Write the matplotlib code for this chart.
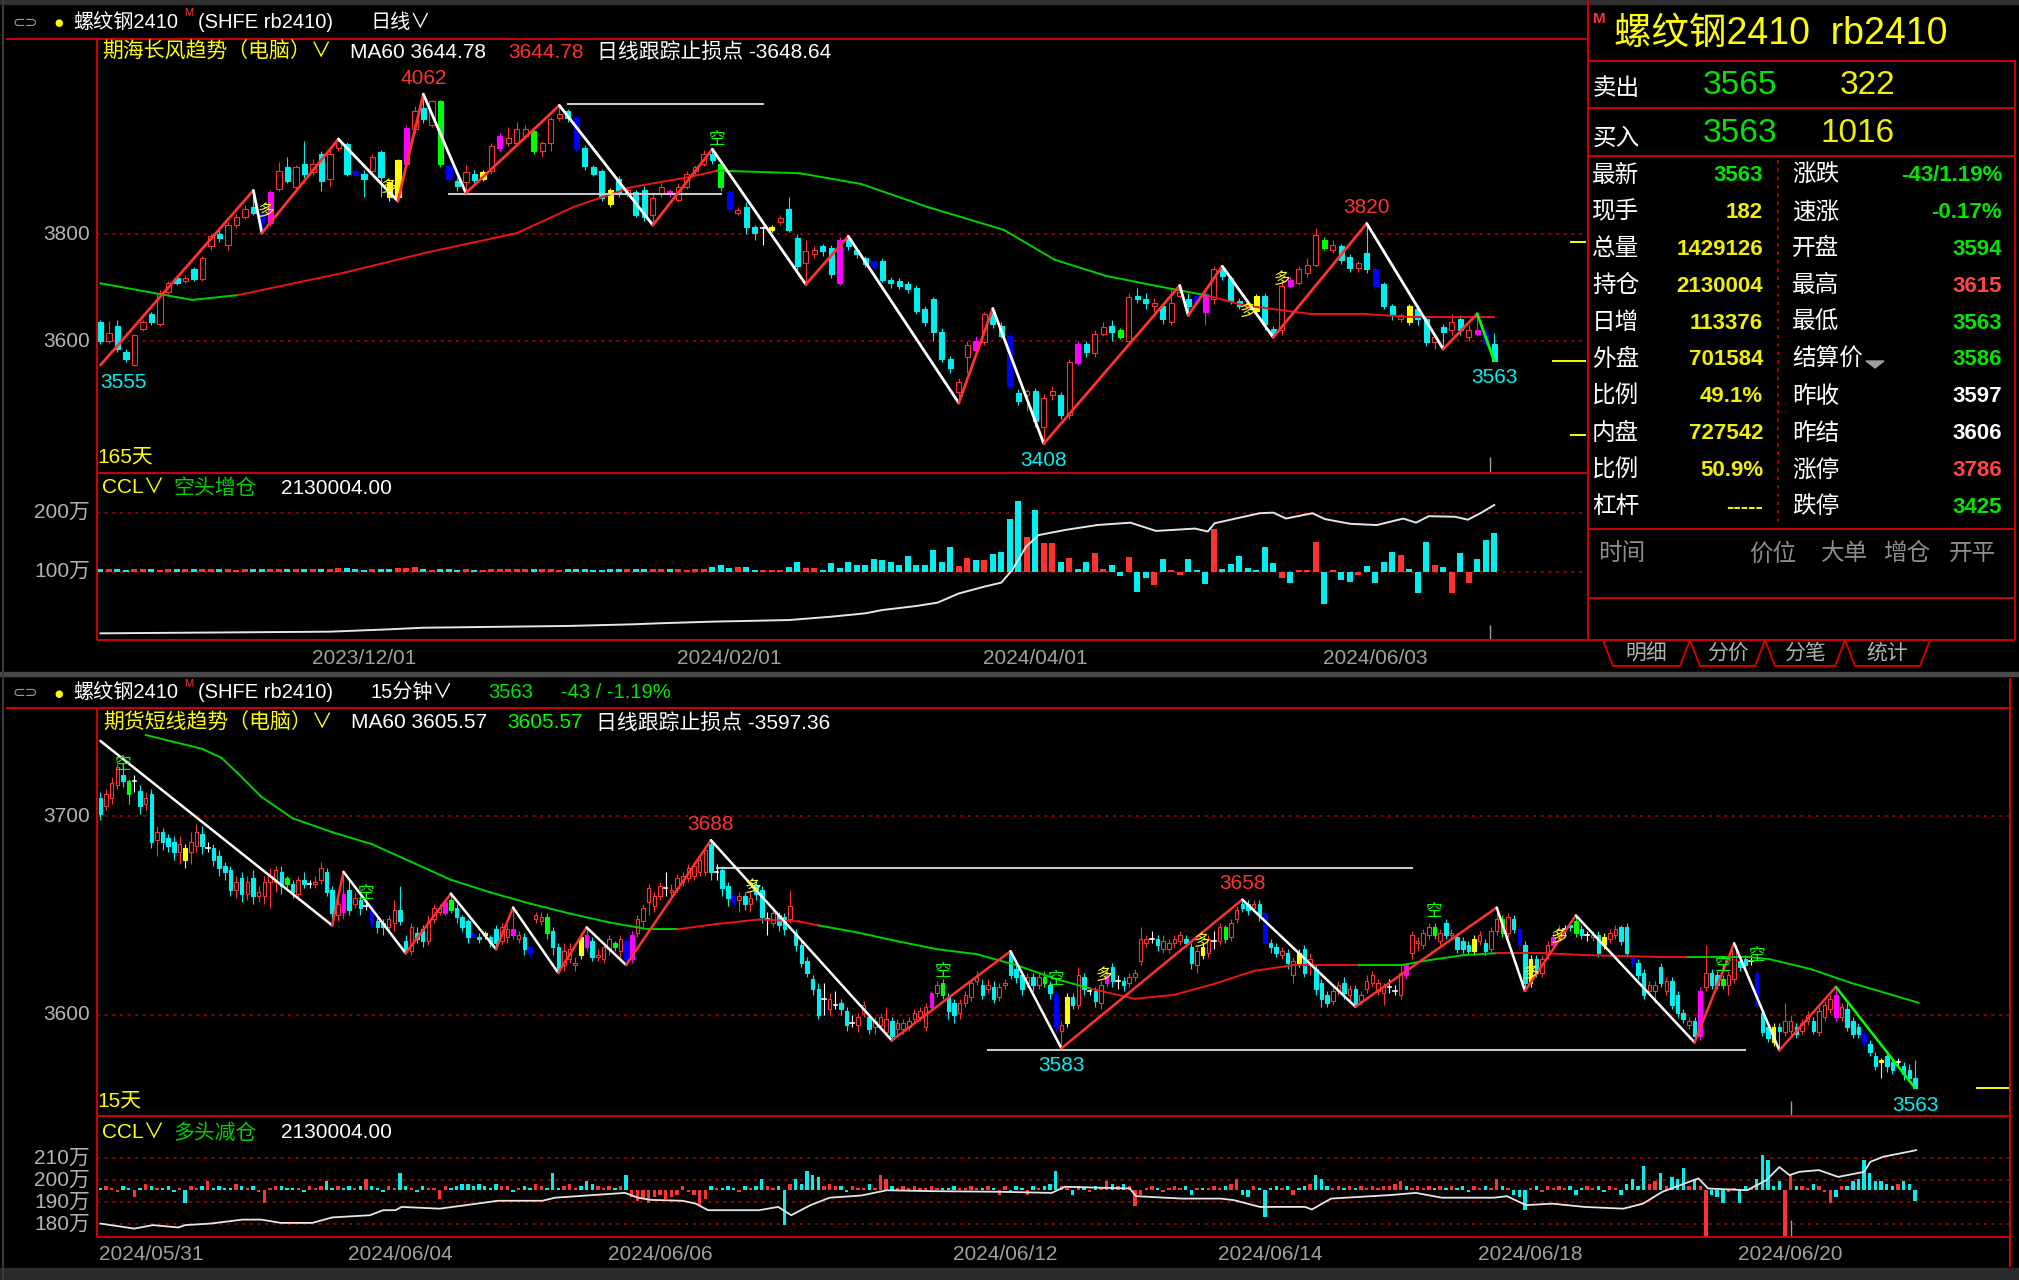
import matplotlib
matplotlib.use("Agg")
import matplotlib.pyplot as plt
from matplotlib.patches import Rectangle, Polygon
from matplotlib.transforms import blended_transform_factory

plt.rcParams["font.family"] = ["Liberation Sans", "Noto Sans CJK SC", "DejaVu Sans"]

# ---------------- daily window (日线) ----------------
daily_ohlc = [
    (3636, 3640, 3595, 3601), (3600, 3638, 3596, 3615), (3629, 3640, 3580, 3586), (3580, 3585, 3560, 3567), (3555, 3614, 3553, 3611),
    (3623, 3640, 3618, 3635), (3651, 3655, 3630, 3635), (3632, 3695, 3628, 3690), (3691, 3712, 3688, 3709), (3718, 3722, 3705, 3709),
    (3712, 3724, 3708, 3718), (3734, 3738, 3712, 3716), (3716, 3760, 3712, 3756), (3777, 3800, 3770, 3796), (3800, 3808, 3785, 3793),
    (3780, 3822, 3770, 3817), (3817, 3838, 3812, 3833), (3833, 3855, 3828, 3848), (3851, 3882, 3835, 3839), (3840, 3845, 3802, 3820),
    (3820, 3882, 3815, 3879), (3885, 3935, 3880, 3919), (3925, 3944, 3895, 3900), (3888, 3930, 3885, 3925), (3931, 3975, 3905, 3913),
    (3916, 3940, 3910, 3931), (3950, 3955, 3880, 3900), (3904, 3962, 3890, 3950), (3962, 3978, 3955, 3975), (3968, 3972, 3908, 3913),
    (3919, 3925, 3905, 3910), (3913, 3920, 3870, 3904), (3919, 3950, 3910, 3944), (3953, 3958, 3870, 3907), (3897, 3900, 3862, 3870),
    (3870, 3940, 3862, 3938), (3931, 4005, 3925, 3999), (3996, 4040, 3990, 4030), (4036, 4062, 4008, 4015), (4005, 4052, 4000, 4049),
    (4049, 4052, 3925, 3931), (3928, 3932, 3898, 3904), (3900, 3905, 3880, 3891), (3897, 3930, 3877, 3916), (3913, 3920, 3895, 3901),
    (3904, 3920, 3900, 3916), (3919, 3970, 3912, 3965), (3962, 3990, 3955, 3984), (3971, 4000, 3965, 3980), (3971, 4010, 3965, 3996),
    (3984, 4005, 3978, 3996), (3993, 4000, 3950, 3956), (3956, 3975, 3945, 3971), (3971, 4020, 3955, 4015), (4018, 4041, 4012, 4024),
    (4030, 4035, 4010, 4018), (4018, 4022, 3955, 3959), (3962, 3966, 3920, 3928), (3925, 3930, 3908, 3913), (3919, 3922, 3862, 3867),
    (3882, 3886, 3850, 3857), (3904, 3908, 3870, 3876), (3876, 3890, 3870, 3882), (3879, 3882, 3832, 3836), (3882, 3890, 3825, 3833),
    (3836, 3875, 3817, 3867), (3876, 3895, 3870, 3888), (3880, 3885, 3870, 3876), (3864, 3895, 3860, 3888), (3888, 3918, 3885, 3913),
    (3919, 3930, 3910, 3925), (3931, 3958, 3928, 3950), (3950, 3959, 3932, 3938), (3931, 3935, 3880, 3888), (3879, 3882, 3840, 3848),
    (3839, 3850, 3835, 3845), (3851, 3860, 3800, 3814), (3814, 3818, 3790, 3802), (3811, 3815, 3780, 3811), (3808, 3818, 3805, 3814),
    (3823, 3835, 3818, 3830), (3848, 3870, 3805, 3808), (3793, 3800, 3725, 3740), (3746, 3790, 3706, 3768), (3762, 3778, 3755, 3771),
    (3777, 3782, 3760, 3768), (3774, 3780, 3718, 3725), (3790, 3795, 3705, 3709), (3793, 3796, 3770, 3777), (3771, 3775, 3755, 3762),
    (3756, 3760, 3738, 3744), (3749, 3752, 3735, 3740), (3749, 3755, 3710, 3715), (3715, 3720, 3700, 3709), (3712, 3718, 3698, 3703),
    (3706, 3712, 3690, 3697), (3700, 3705, 3650, 3657), (3660, 3666, 3628, 3635), (3678, 3682, 3600, 3617), (3617, 3625, 3560, 3567),
    (3567, 3572, 3540, 3550), (3505, 3530, 3484, 3524), (3571, 3600, 3540, 3592), (3601, 3610, 3575, 3583), (3598, 3655, 3592, 3651),
    (3654, 3661, 3625, 3632), (3629, 3635, 3605, 3610), (3610, 3615, 3510, 3515), (3502, 3510, 3480, 3487), (3499, 3510, 3470, 3506),
    (3506, 3512, 3440, 3450), (3440, 3500, 3408, 3493), (3499, 3515, 3490, 3506), (3499, 3505, 3455, 3462), (3462, 3566, 3455, 3561),
    (3595, 3600, 3555, 3558), (3595, 3600, 3570, 3580), (3577, 3620, 3570, 3614), (3614, 3635, 3610, 3626), (3629, 3640, 3600, 3617),
    (3620, 3625, 3603, 3608), (3601, 3690, 3598, 3682), (3684, 3700, 3672, 3678), (3678, 3690, 3660, 3672), (3666, 3680, 3655, 3672),
    (3666, 3670, 3632, 3641), (3635, 3700, 3630, 3672), (3684, 3704, 3680, 3691), (3678, 3690, 3648, 3666), (3684, 3690, 3668, 3672),
    (3688, 3692, 3630, 3654), (3678, 3740, 3670, 3734), (3737, 3742, 3715, 3721), (3718, 3722, 3670, 3675), (3675, 3680, 3660, 3666),
    (3669, 3672, 3655, 3660), (3685, 3688, 3650, 3657), (3685, 3690, 3620, 3632), (3623, 3628, 3607, 3614), (3620, 3712, 3612, 3703),
    (3715, 3720, 3700, 3703), (3709, 3740, 3705, 3734), (3728, 3755, 3720, 3743), (3743, 3812, 3738, 3799), (3790, 3795, 3770, 3774),
    (3771, 3790, 3765, 3780), (3777, 3782, 3745, 3752), (3758, 3762, 3730, 3737), (3737, 3750, 3730, 3746), (3765, 3820, 3728, 3734),
    (3734, 3738, 3698, 3703), (3706, 3710, 3660, 3666), (3666, 3670, 3640, 3648), (3642, 3652, 3635, 3648), (3666, 3670, 3630, 3635),
    (3660, 3668, 3630, 3641), (3641, 3645, 3590, 3598), (3598, 3612, 3585, 3607), (3626, 3632, 3585, 3617), (3620, 3650, 3612, 3635),
    (3641, 3648, 3612, 3620), (3607, 3630, 3600, 3620), (3620, 3651, 3610, 3614), (3614, 3625, 3592, 3597), (3594, 3615, 3563, 3563),
]
daily_marks = {19: "b", 20: "m", 30: "b", 34: "y", 35: "y", 36: "m", 40: "g", 41: "b", 45: "y", 47: "m",
               51: "g", 56: "b", 60: "y", 67: "m", 73: "g", 74: "b", 79: "y", 87: "m", 91: "b", 103: "m",
               107: "b", 115: "m", 120: "g", 129: "b", 130: "m", 135: "b", 136: "y", 140: "m", 144: "g",
               150: "b", 154: "y", 162: "m", 163: "b"}
daily_zz_idx = [0, 18, 19, 28, 35, 38, 43, 54, 65, 72, 83, 88, 101, 105, 111, 127, 128, 132, 138, 149, 158, 162, 164]
daily_zz_val = [3555, 3882, 3802, 3978, 3862, 4062, 3877, 4041, 3817, 3959, 3706, 3796, 3484, 3661, 3408, 3704,
                3648, 3740, 3607, 3820, 3585, 3651, 3563]
daily_ma_idx = [0, 10.8, 16.2, 28.7, 38.2, 49, 55.7, 62.5, 69.3, 72.6, 82.3, 89.5, 97.3, 106.3, 112.3, 118.3,
                124.3, 130.3, 134.5, 142.3, 148.3, 154.3, 164]
daily_ma_val = [3708, 3677, 3686, 3728, 3765, 3802, 3851, 3888, 3907, 3919, 3914, 3894, 3851, 3808, 3752, 3722,
                3703, 3685, 3667, 3651, 3651, 3645, 3645]
daily_ma_col = "ggrrrrrrrggggggggrrrrrr"
daily_flat = [(55, 78, 4044), (41, 73, 3876)]
daily_oi_idx = [0, 27, 34, 38, 55, 62.5, 65.5, 72, 81, 86, 90, 92, 96, 98.5, 101, 104, 106, 107.3, 108.9, 110.4,
                113.5, 117.3, 121.2, 124.2, 128.8, 130.3, 131.1, 136.4, 138, 139.5, 142.6, 144.1, 147.1, 150.2,
                153.3, 154.8, 156.3, 159.4, 160.9, 162.5, 164]
daily_oi_val = [-4.5, -1.7, 2.3, 5, 8, 10.7, 12.4, 15.3, 18, 23.7, 29.4, 35, 41.8, 47.5, 63, 74.6, 81.4, 103, 142,
                162, 170.6, 179, 183, 169, 173, 168, 182, 199, 200, 190, 199, 189, 181, 179, 190, 183, 194, 193,
                188, 200, 213]
daily_ccl = [4, 4, 4, 3, 4, 4, 4, 3, 4, 4, 4, 4, 4, 4, 4, 4, 3, 4, 4, 4, 4, 4, 4, 4, 4, 4, 4, 5,
             7, 6, 4, 3, 4, 4, 4, 6, 6, 8, 4, 3, 4,
             4, 3, 4, 3, 3, 4, 4, 4, 4, 4, 4, 5, 4, 3, 5, 4, 4, 3, 3, 4, 5, 5, 5, 5, 4, 4, 4, 4, 3, 4, 4,
             8, 11, 7, 8, 8, 2, 2, 2, 2, 8, 16, 7, 7, 2, 14, 6, 17, 12, 12, 21, 19, 17, 12, 27, 12, 11, 37, 17,
             42, 10, 23, 20, 20, 30,
             34, 90, 119, 59, 105, 48, 48, 17, 23, 4, 17, 31, 4, 11, -8, 24, -34, -11, -23, 21, 2, -6, 21, 2,
             -21, 73, 4, 13, 27, 7, 2, 42, 14, -11, -20, 2, 3, 51, -55, 2, -14, -17, -6, 10, -20, 17, 34, 28, 4,
             -36, 51, 11, 8, -36, 31, -19, 21, 53, 65]
daily_dates = [(31, "2023/12/01"), (74, "2024/02/01"), (110, "2024/04/01"), (150, "2024/06/03")]
daily_pivots = [(0, 3555, "low"), (38, 4062, "high"), (111, 3408, "low"), (149, 3820, "high"), (164, 3563, "low")]
daily_kong = [(72.6, 3978)]
daily_duo = [(19.5, 3842), (34, 3888), (135, 3655), (139, 3716)]

# ---------------- 15-minute window (15分钟) ----------------
m15_ohlc = [
    (3709, 3712, 3698, 3701), (3705, 3714, 3703, 3711), (3709, 3720, 3706, 3717), (3716, 3727, 3714, 3725), (3721, 3727, 3715, 3718),
    (3718, 3719, 3706, 3711), (3718, 3721, 3712, 3718), (3713, 3716, 3701, 3705), (3706, 3712, 3703, 3709), (3711, 3714, 3684, 3687),
    (3688, 3695, 3680, 3692), (3692, 3694, 3683, 3687), (3689, 3691, 3682, 3685), (3687, 3690, 3678, 3682), (3682, 3690, 3676, 3686),
    (3684, 3686, 3674, 3678), (3682, 3692, 3676, 3687), (3685, 3696, 3682, 3692), (3691, 3695, 3681, 3685), (3684, 3687, 3682, 3684),
    (3684, 3686, 3675, 3678), (3680, 3683, 3670, 3674), (3675, 3677, 3668, 3672), (3673, 3675, 3660, 3663), (3663, 3670, 3659, 3667),
    (3669, 3672, 3657, 3661), (3661, 3670, 3658, 3667), (3669, 3673, 3656, 3660), (3660, 3665, 3657, 3662), (3660, 3670, 3656, 3667),
    (3667, 3674, 3654, 3670), (3667, 3675, 3662, 3673), (3672, 3675, 3661, 3665), (3669, 3670, 3664, 3666), (3666, 3668, 3659, 3662),
    (3661, 3670, 3658, 3668), (3668, 3672, 3664, 3666), (3666, 3668, 3664, 3666), (3666, 3670, 3664, 3667), (3668, 3677, 3666, 3674),
    (3672, 3674, 3660, 3662), (3663, 3665, 3645, 3651), (3650, 3660, 3647, 3656), (3661, 3672, 3648, 3652), (3663, 3668, 3650, 3653),
    (3656, 3662, 3654, 3659), (3658, 3660, 3650, 3654), (3655, 3657, 3653, 3655), (3654, 3656, 3644, 3646), (3647, 3650, 3641, 3644),
    (3646, 3648, 3640, 3644), (3644, 3650, 3642, 3648), (3646, 3658, 3642, 3653), (3653, 3665, 3645, 3647), (3637, 3640, 3631, 3632),
    (3632, 3646, 3630, 3644), (3641, 3644, 3636, 3638), (3643, 3645, 3634, 3637), (3637, 3650, 3635, 3647), (3648, 3656, 3646, 3654),
    (3652, 3656, 3650, 3654), (3651, 3658, 3650, 3657), (3658, 3661, 3651, 3653), (3654, 3656, 3646, 3649), (3649, 3650, 3642, 3644),
    (3647, 3648, 3636, 3639), (3641, 3642, 3637, 3639), (3639, 3641, 3636, 3638), (3641, 3642, 3638, 3640), (3639, 3640, 3634, 3636),
    (3643, 3645, 3633, 3636), (3637, 3646, 3635, 3644), (3639, 3645, 3636, 3643), (3643, 3654, 3638, 3640), (3638, 3642, 3636, 3640),
    (3639, 3641, 3630, 3633), (3634, 3635, 3629, 3631), (3648, 3652, 3646, 3650), (3647, 3652, 3645, 3649), (3649, 3651, 3638, 3641),
    (3642, 3644, 3630, 3634), (3634, 3636, 3621, 3623), (3625, 3636, 3622, 3632), (3628, 3636, 3626, 3633), (3625, 3629, 3622, 3626),
    (3639, 3641, 3628, 3630), (3640, 3644, 3632, 3634), (3637, 3639, 3627, 3629), (3629, 3633, 3627, 3630), (3628, 3636, 3626, 3634),
    (3633, 3640, 3630, 3638), (3636, 3637, 3632, 3634), (3632, 3640, 3629, 3638), (3637, 3639, 3625, 3628), (3628, 3642, 3626, 3640),
    (3641, 3650, 3639, 3648), (3647, 3656, 3644, 3654), (3657, 3666, 3650, 3664), (3655, 3662, 3652, 3660), (3660, 3667, 3658, 3665),
    (3664, 3672, 3660, 3664), (3662, 3666, 3660, 3663), (3664, 3671, 3662, 3669), (3667, 3672, 3665, 3670), (3669, 3676, 3667, 3674),
    (3670, 3677, 3668, 3675), (3672, 3680, 3670, 3678), (3672, 3685, 3670, 3683), (3686, 3688, 3668, 3672), (3672, 3676, 3668, 3672),
    (3673, 3675, 3660, 3664), (3665, 3667, 3655, 3659), (3660, 3661, 3655, 3657), (3658, 3662, 3652, 3660), (3660, 3662, 3653, 3656),
    (3656, 3662, 3652, 3659), (3665, 3668, 3658, 3661), (3663, 3665, 3646, 3649), (3648, 3652, 3640, 3648), (3646, 3653, 3644, 3651),
    (3650, 3652, 3642, 3645), (3649, 3651, 3640, 3643), (3648, 3663, 3646, 3655), (3641, 3643, 3632, 3635), (3635, 3638, 3624, 3626),
    (3627, 3629, 3619, 3621), (3618, 3620, 3610, 3613), (3613, 3616, 3598, 3600), (3608, 3616, 3600, 3608), (3603, 3611, 3600, 3608),
    (3605, 3612, 3603, 3605), (3606, 3608, 3600, 3603), (3602, 3604, 3592, 3595), (3596, 3600, 3594, 3596), (3595, 3601, 3591, 3599),
    (3601, 3607, 3599, 3605), (3599, 3601, 3590, 3593), (3594, 3599, 3590, 3597), (3595, 3601, 3593, 3599), (3591, 3604, 3589, 3598),
    (3597, 3599, 3587, 3589), (3593, 3598, 3590, 3596), (3593, 3598, 3590, 3596), (3594, 3599, 3592, 3597), (3598, 3603, 3596, 3601),
    (3599, 3604, 3597, 3602), (3594, 3606, 3592, 3604), (3604, 3612, 3602, 3611), (3611, 3617, 3609, 3615), (3616, 3618, 3608, 3610),
    (3609, 3611, 3598, 3602), (3606, 3608, 3596, 3600), (3601, 3608, 3598, 3606), (3606, 3612, 3604, 3610), (3609, 3618, 3607, 3616),
    (3617, 3622, 3615, 3619), (3615, 3618, 3608, 3610), (3613, 3618, 3611, 3615), (3614, 3617, 3606, 3608), (3609, 3616, 3607, 3614),
    (3615, 3618, 3613, 3616), (3631, 3632, 3618, 3620), (3623, 3625, 3616, 3619), (3620, 3622, 3610, 3613), (3616, 3621, 3614, 3619),
    (3619, 3621, 3612, 3615), (3615, 3621, 3613, 3619), (3619, 3622, 3614, 3616), (3615, 3617, 3608, 3611), (3610, 3612, 3591, 3594),
    (3592, 3597, 3583, 3595), (3596, 3611, 3594, 3609), (3609, 3611, 3603, 3605), (3605, 3624, 3603, 3620), (3619, 3621, 3610, 3613),
    (3612, 3614, 3610, 3612), (3612, 3614, 3604, 3607), (3606, 3617, 3603, 3615), (3616, 3623, 3614, 3620), (3624, 3626, 3614, 3617),
    (3617, 3620, 3613, 3617), (3617, 3619, 3612, 3615), (3616, 3621, 3614, 3619), (3619, 3623, 3617, 3621), (3627, 3644, 3625, 3638),
    (3636, 3640, 3634, 3638), (3638, 3642, 3636, 3638), (3638, 3640, 3632, 3635), (3633, 3640, 3631, 3637), (3633, 3638, 3631, 3636),
    (3636, 3640, 3634, 3638), (3637, 3642, 3635, 3640), (3638, 3640, 3634, 3636), (3634, 3636, 3623, 3626), (3625, 3634, 3621, 3632),
    (3634, 3636, 3628, 3630), (3631, 3640, 3629, 3638), (3637, 3642, 3633, 3637), (3637, 3646, 3635, 3644), (3644, 3645, 3636, 3638),
    (3639, 3648, 3637, 3646), (3648, 3655, 3646, 3653), (3656, 3658, 3652, 3654), (3656, 3658, 3650, 3653), (3654, 3658, 3652, 3656),
    (3656, 3658, 3647, 3650), (3651, 3653, 3633, 3636), (3636, 3638, 3631, 3634), (3634, 3636, 3629, 3631), (3630, 3634, 3628, 3632),
    (3631, 3633, 3623, 3626), (3620, 3629, 3616, 3627), (3631, 3633, 3624, 3626), (3633, 3635, 3619, 3621), (3625, 3631, 3620, 3628),
    (3623, 3625, 3610, 3613), (3616, 3618, 3604, 3608), (3610, 3612, 3604, 3606), (3607, 3614, 3605, 3612), (3612, 3617, 3610, 3615),
    (3616, 3619, 3608, 3611), (3610, 3615, 3607, 3613), (3613, 3615, 3604, 3605), (3607, 3612, 3605, 3610), (3613, 3620, 3611, 3617),
    (3616, 3622, 3614, 3620), (3612, 3618, 3610, 3616), (3611, 3616, 3605, 3614), (3614, 3618, 3611, 3614), (3612, 3615, 3610, 3612),
    (3610, 3625, 3608, 3621), (3625, 3626, 3618, 3620), (3631, 3642, 3628, 3640), (3636, 3639, 3632, 3637), (3635, 3643, 3633, 3641),
    (3640, 3646, 3638, 3644), (3644, 3646, 3638, 3640), (3637, 3643, 3635, 3641), (3646, 3648, 3638, 3640), (3640, 3643, 3638, 3641),
    (3639, 3641, 3631, 3633), (3637, 3639, 3631, 3633), (3635, 3637, 3630, 3632), (3632, 3640, 3630, 3638), (3637, 3642, 3635, 3640),
    (3636, 3638, 3630, 3632), (3633, 3644, 3631, 3642), (3642, 3654, 3640, 3648), (3648, 3650, 3639, 3641), (3641, 3651, 3639, 3649),
    (3648, 3650, 3641, 3643), (3643, 3645, 3633, 3635), (3635, 3637, 3612, 3616), (3616, 3630, 3614, 3628), (3628, 3630, 3619, 3621),
    (3621, 3630, 3619, 3628), (3630, 3637, 3628, 3635), (3635, 3641, 3633, 3639), (3640, 3645, 3638, 3643), (3643, 3645, 3640, 3643),
    (3645, 3647, 3642, 3644), (3647, 3650, 3639, 3641), (3643, 3645, 3638, 3640), (3640, 3642, 3637, 3640), (3639, 3642, 3637, 3640),
    (3640, 3642, 3629, 3631), (3639, 3641, 3633, 3635), (3638, 3643, 3636, 3641), (3640, 3645, 3638, 3643), (3644, 3645, 3635, 3637),
    (3644, 3646, 3629, 3631), (3629, 3630, 3624, 3626), (3626, 3628, 3618, 3620), (3621, 3623, 3608, 3610), (3612, 3617, 3610, 3615),
    (3612, 3617, 3606, 3615), (3624, 3626, 3614, 3616), (3612, 3619, 3610, 3617), (3617, 3619, 3603, 3605), (3610, 3612, 3599, 3601),
    (3601, 3603, 3596, 3598), (3595, 3599, 3593, 3597), (3597, 3599, 3586, 3589), (3589, 3614, 3587, 3612), (3614, 3635, 3612, 3621),
    (3621, 3623, 3613, 3615), (3620, 3622, 3613, 3615), (3618, 3620, 3613, 3615), (3615, 3622, 3610, 3620), (3618, 3636, 3616, 3635),
    (3627, 3629, 3622, 3624), (3628, 3630, 3623, 3625), (3627, 3630, 3625, 3627), (3621, 3623, 3603, 3605), (3601, 3603, 3589, 3591),
    (3594, 3596, 3586, 3588), (3594, 3596, 3584, 3586), (3594, 3596, 3582, 3592), (3591, 3606, 3589, 3597), (3592, 3600, 3590, 3597),
    (3594, 3596, 3588, 3590), (3592, 3598, 3590, 3596), (3597, 3602, 3595, 3600), (3597, 3599, 3590, 3592), (3591, 3604, 3589, 3602),
    (3599, 3607, 3597, 3605), (3603, 3610, 3601, 3608), (3610, 3614, 3597, 3599), (3599, 3606, 3597, 3604), (3603, 3606, 3592, 3594),
    (3597, 3599, 3588, 3590), (3594, 3596, 3588, 3590), (3590, 3592, 3584, 3586), (3585, 3587, 3579, 3581), (3579, 3581, 3572, 3574),
    (3577, 3578, 3568, 3576), (3579, 3581, 3571, 3574), (3576, 3578, 3570, 3572), (3576, 3578, 3574, 3576), (3574, 3576, 3567, 3570),
    (3572, 3575, 3566, 3568), (3568, 3577, 3563, 3563),
]
m15_marks = {5: "g", 15: "y", 33: "g", 43: "m", 48: "b", 61: "m", 62: "g", 66: "b", 68: "y", 73: "m", 76: "b",
             79: "g", 85: "y", 86: "m", 91: "g", 93: "b", 94: "m", 112: "b", 147: "m", 149: "g", 167: "g",
             169: "b", 171: "y", 178: "m", 195: "y", 199: "g", 206: "b", 212: "y", 231: "m", 236: "g", 243: "y",
             248: "g", 251: "b", 253: "y", 257: "m", 261: "g", 266: "y", 271: "b", 283: "m", 287: "g", 293: "b",
             296: "y", 307: "m", 312: "b", 315: "y"}
m15_zz_idx = [0, 41, 43, 54, 62, 70, 73, 81, 86, 93, 108, 140, 161, 170, 202, 222, 247, 252, 261, 282, 289, 297, 307, 321]
m15_zz_val = [3738, 3645, 3672, 3631, 3661, 3633, 3654, 3621, 3644, 3625, 3688, 3587, 3632, 3583, 3658, 3604, 3654,
              3612, 3650, 3586, 3636, 3582, 3614, 3563]
m15_ma_idx = [8, 18, 21.4, 24.2, 28.4, 34, 41, 48, 55, 62, 69, 76, 83, 90, 97, 102, 108.7, 116.6, 123.6, 127, 134,
              141, 148, 155, 162, 169, 175.3, 183, 190, 197, 204, 211, 219.4, 222.7, 230.3, 233.9, 241.1, 247,
              255.5, 262.7, 277.2, 280.8, 291.6, 295.2, 302.5, 309.7, 316.9, 321.6]
m15_ma_val = [3741, 3734, 3729.5, 3722, 3710, 3699, 3692, 3686, 3677, 3668, 3661.6, 3656, 3651, 3646.5, 3643, 3643,
              3645.6, 3648, 3647, 3645, 3641.4, 3637, 3633, 3630.5, 3625, 3618, 3613, 3608, 3610, 3615.5, 3622,
              3625, 3625, 3625, 3625, 3627, 3630, 3631, 3631, 3630, 3629, 3629, 3629, 3628, 3623, 3616, 3610, 3606]
m15_ma_col = "gggggggggggggggrrrrgggggggrrrrrrrggggrrrrgggggggg"
m15_flat = [(109, 232, 3674), (157, 291, 3582)]
m15_oi_idx = [0, 6, 9.3, 13.8, 15, 19.5, 25.1, 28.5, 31.9, 37.5, 41, 47.7, 50, 52.2, 53.3, 60, 65.8, 70.3, 78.2,
              80.4, 89.4, 92.8, 95.1, 97.4, 103, 105.3, 107.5, 116.5, 119.9, 122.2, 125.6, 129, 134.6, 139.1, 147,
              159.1, 168.3, 170.6, 182.1, 183.2, 191.3, 198.2, 200.5, 205.1, 213.1, 214.3, 217.7, 228.1, 232.7,
              237.3, 246.5, 248.8, 252.2, 256.8, 262.5, 269.4, 272.9, 276.3, 281, 282.7, 284.4, 291.3, 294.7, 297,
              298.8, 300.5, 304, 307.4, 312, 313.1, 315.4, 321.2]
m15_oi_val = [180.2, 177.9, 179.5, 178.4, 179.5, 180.2, 182, 182, 180.5, 180.5, 183, 184, 186.3, 186.3, 187.8, 187,
              189, 190.6, 190.6, 192, 193.6, 194.2, 192, 191, 190.6, 189.3, 186.3, 186.3, 187.8, 184, 188.6, 192,
              193, 195.4, 195, 194.7, 194.2, 197, 196.2, 192.7, 191.6, 191.6, 190.9, 187.8, 187.8, 186.6, 191.6,
              193.2, 194.2, 192, 192, 192.7, 188.6, 189.3, 187.8, 187, 189.3, 194.7, 199.2, 200.8, 196.2, 195.4,
              200, 206, 202.3, 203.8, 204.6, 201.5, 203.8, 208.4, 210.7, 213.7]
m15_ccl = [1, 2, 1, -1, 2, 1, -3, 1, 3, 2, 1, 1, 2, -1, 1, -6, 2, 1, 2, 4,
           1, 2, 1, 1, 3, 2, 1, 2, -1, -6, 1, 2, 2, 1, 1, 1, -1, 2, 1, 2,
           4, 1, 2, 1, 2, 1, 2, 5, 2, 1, -1, 2, 1, 8, 2, 1, -1, 2, 1, 1,
           -4, 2, 1, 2, 3, 3, 2, 3, 2, 1, 3, 2, 2, -1, 1, 2, 1, 3, 2, 1,
           8, 1, 2, 3, 1, 2, 4, 3, 2, 1, 2, 1, 2, 7, -3, -5, -4, -6, -3, -2,
           -4, -3, -2, 2, -1, -2, -7, -4, 2, 1, 1, 2, 1, -1, 2, 1, 2, 5, 2, 1,
           2, -16, 3, 5, 3, 9, 7, 6, 2, 3, 2, 2, -1, 2, 1, 1, 3, 1, 7, 5,
           2, 1, 2, 1, 2, 1, 1, 2, 1, 1, 1, 2, 1, 1, 2, 1, 1, 2, 1, -2,
           2, -1, 2, 1, -2, 2, 1, 2, 3, 9, 2, 1, -2, 2, 1, -1, 2, 1, 4, 3,
           2, 3, 2, -7, -2, 1, 2, 1, -1, 1, 2, 1, 2, -2, 1, 1, 1, 2, 1, 2,
           3, 5, -2, -3, 2, 1, -12, 1, 2, 1, 2, -2, 1, 2, 3, 7, 5, 2, 1, 2,
           1, 2, 1, 2, 1, 2, 1, 2, 2, 3, 4, 2, 1, 2, 1, 2, 1, 2, 1, 2,
           1, 2, -1, 2, 1, 2, 1, 5, 2, 1, -2, -3, -9, 1, 2, -1, 2, 1, 2, 1,
           2, -2, 1, 2, 1, 2, -1, 2, 1, -2, 3, 5, 2, 11, 3, 4, 8, 2, 6, 5,
           10, 2, 5, 2, -21, -2, -3, -6, -1, 1, -6, 2, 1, 5, 16, 14, 2, 4, -21, 7,
           2, 2, 1, 3, 2, -1, -6, -3, 2, 2, 4, 5, 14, 8, 4, 4, 3, 2, 3, 4, 3, -5]
m15_dates = [(9, "2024/05/31"), (53, "2024/06/04"), (99, "2024/06/06"), (160, "2024/06/12"),
             (207, "2024/06/14"), (253, "2024/06/18"), (299, "2024/06/20")]
m15_pivots = [(108, 3688, "high"), (170, 3583, "low"), (202, 3658, "high"), (321, 3563, "low")]
m15_kong = [(4, 3726), (47, 3661), (149, 3622), (169, 3618), (236, 3652), (287, 3625), (293, 3630)]
m15_duo = [(115.5, 3664), (177.5, 3620), (194.8, 3637), (253, 3621), (258, 3639)]

# ---------------- quote panel ----------------
quote_left = [("最新", "3563"), ("现手", "182"), ("总量", "1429126"), ("持仓", "2130004"), ("日增", "113376"),
              ("外盘", "701584"), ("比例", "49.1%"), ("内盘", "727542"), ("比例", "50.9%"), ("杠杆", "-----")]
quote_left_col = ["q_green"] + ["yellow"] * 9
quote_right = [("涨跌", "-43/1.19%"), ("速涨", "-0.17%"), ("开盘", "3594"), ("最高", "3615"), ("最低", "3563"),
               ("结算价", "3586"), ("昨收", "3597"), ("昨结", "3606"), ("涨停", "3786"), ("跌停", "3425")]
quote_right_col = ["q_green", "q_green", "q_green", "q_red", "q_green", "q_green", "white", "white", "q_red", "q_green"]
tabs = ["明细", "分价", "分笔", "统计"]
tick_cols = ["时间", "价位", "大单", "增仓", "开平"]

# ---------------- styling ----------------
RED, CYAN, MAG, YEL = "#ff3232", "#00f0f0", "#ff00ff", "#ffff00"
BLUE, LIME, WHITE = "#0000ff", "#00ff00", "#ffffff"
BORDER, GRID, GRAY = "#d20000", "#b40000", "#b4b4b4"
QCOL = {"q_green": "#00e600", "q_red": "#ff4646", "yellow": "#f0f000", "white": "#ffffff"}
MARK = {"m": MAG, "y": YEL, "b": BLUE, "g": LIME}

W, H = 2019, 1280
fig = plt.figure(figsize=(W / 100, H / 100), dpi=100, facecolor="black")


def add_ax(x0, y0, x1, y1, xlim, ylim):
    ax = fig.add_axes([x0 / W, 1 - y1 / H, (x1 - x0) / W, (y1 - y0) / H])
    ax.set_xlim(*xlim)
    ax.set_ylim(*ylim)
    ax.set_facecolor("black")
    ax.set_axis_off()
    return ax


def draw_candles(ax, ohlc, marks, width):
    for i, (o, h, l, c) in enumerate(ohlc):
        m = marks.get(i)
        if m:
            col, hollow = MARK[m], False
        elif c > o:
            col, hollow = RED, True
        elif c < o:
            col, hollow = CYAN, False
        else:
            col, hollow = WHITE, False
        ax.plot([i, i], [l, h], color=col, lw=0.8, zorder=2, solid_capstyle="butt")
        if c == o:
            ax.plot([i - width / 2, i + width / 2], [o, o], color=col, lw=1.2, zorder=3)
        else:
            lo, hi = min(o, c), max(o, c)
            ax.add_patch(Rectangle((i - width / 2, lo), width, hi - lo, facecolor="black" if hollow else col,
                                   edgecolor=col, lw=0.8, zorder=3))


def draw_zigzag(ax, idx, val, lw):
    for k in range(len(idx) - 1):
        if k == len(idx) - 2:
            col = LIME
        else:
            col = RED if val[k + 1] > val[k] else WHITE
        ax.plot(idx[k:k + 2], val[k:k + 2], color=col, lw=lw, zorder=5, solid_capstyle="round")


def draw_ma(ax, idx, val, cols):
    for k in range(len(idx) - 1):
        ax.plot(idx[k:k + 2], val[k:k + 2], color="#00d200" if cols[k] == "g" else "#ee1414", lw=1.4, zorder=4)


def draw_ccl(ax, vals, base, ohlc, width):
    for i, v in enumerate(vals):
        o, h, l, c = ohlc[i]
        ax.add_patch(Rectangle((i - width / 2, base + min(v, 0)), width, abs(v),
                               color=RED if c >= o else CYAN, lw=0, zorder=2))


def grid(ax, levels):
    for v in levels:
        ax.axhline(v, color=GRID, lw=1.1, ls=(0, (2, 3)), zorder=1)


def signals(ax, kong, duo):
    for x, y in kong:
        ax.text(x, y, "空", color=LIME, fontsize=12, ha="center", va="center", zorder=6)
    for x, y in duo:
        ax.text(x, y, "多", color=YEL, fontsize=12, ha="center", va="center", zorder=6)


def pivots(ax, items):
    for x, y, kind in items:
        up = kind == "high"
        ha = "left" if x == 0 else "center"
        ax.annotate(str(y), (x, y), xytext=(0, 16 if up else -17), textcoords="offset pixels",
                    color=RED if up else CYAN, fontsize=15, ha=ha, va="center", zorder=7)


# ---- daily chart ----
dprice = add_ax(96.6, 38.6, 1586, 472.5, (-0.45, 174.8), (3354, 4166))
dsub = add_ax(96.6, 472.5, 1586, 640, (-0.45, 174.8), (-15.8, 268))
grid(dprice, [3800, 3600])
grid(dsub, [200, 100])
draw_ma(dprice, daily_ma_idx, daily_ma_val, daily_ma_col)
for a, b, v in daily_flat:
    dprice.plot([a, b], [v, v], color="#c8c8c8", lw=1.5, zorder=4)
draw_candles(dprice, daily_ohlc, daily_marks, 0.62)
draw_zigzag(dprice, daily_zz_idx, daily_zz_val, 2.0)
signals(dprice, daily_kong, daily_duo)
pivots(dprice, daily_pivots)
dprice.hlines([3786, 3425], 172.9, 174.8, color=YEL, lw=1.4)
dprice.hlines(3563, 170.8, 174.8, color=YEL, lw=1.4)
dprice.vlines(163.5, 3354, 3383, color="#a0a0a0", lw=1)
draw_ccl(dsub, daily_ccl, 100, daily_ohlc, 0.7)
dsub.plot(daily_oi_idx, daily_oi_val, color="#e6e6e6", lw=1.4, zorder=4)
dsub.vlines(163.5, -15.8, 9.7, color="#a0a0a0", lw=1)

# ---- 15-minute chart ----
mprice = add_ax(96.6, 708, 2010, 1116, (-0.67, 337.8), (3548.9, 3754.6))
msub = add_ax(96.6, 1116, 2010, 1236.7, (-0.67, 337.8), (174.2, 229.3))
grid(mprice, [3700, 3600])
grid(msub, [210, 200, 190, 180])
draw_ma(mprice, m15_ma_idx, m15_ma_val, m15_ma_col)
for a, b, v in m15_flat:
    mprice.plot([a, b], [v, v], color="#c8c8c8", lw=1.5, zorder=4)
draw_candles(mprice, m15_ohlc, m15_marks, 0.62)
draw_zigzag(mprice, m15_zz_idx, m15_zz_val, 1.8)
signals(mprice, m15_kong, m15_duo)
pivots(mprice, m15_pivots)
mprice.hlines(3563, 331.7, 337.8, color=YEL, lw=1.4)
mprice.vlines(299, 3548.9, 3556.4, color="#a0a0a0", lw=1)
draw_ccl(msub, m15_ccl, 195.4, m15_ohlc, 0.6)
msub.plot(m15_oi_idx, m15_oi_val, color="#e6e6e6", lw=1.3, zorder=4)
msub.vlines(299, 174.2, 181.8, color="#a0a0a0", lw=1)

# ---- overlay: frame, headers, quote panel ----
ov = fig.add_axes([0, 0, 1, 1], zorder=10)
ov.set_xlim(0, W)
ov.set_ylim(H, 0)
ov.set_axis_off()


def hl(y, x0, x1, color=BORDER, lw=1.4):
    ov.plot([x0, x1], [y, y], color=color, lw=lw, solid_capstyle="butt")


def vl(x, y0, y1, color=BORDER, lw=1.4):
    ov.plot([x, x], [y0, y1], color=color, lw=lw, solid_capstyle="butt")


def txt(x, y, s, color, size=15, ha="left", va="center", **kw):
    ov.text(x, y, s, color=color, fontsize=size, ha=ha, va=va, **kw)


ov.add_patch(Rectangle((0, 0), W, 4, color="#303030"))
ov.add_patch(Rectangle((0, 1268), W, 12, color="#2a2a2a"))
ov.add_patch(Rectangle((0, 672), W, 4, color="#4a4a4a"))
vl(3, 0, 1280, color="#3a3a3a", lw=1.5)

# top window borders
hl(38.6, 6, 1588)
vl(96.6, 38.6, 640)
hl(472.5, 96.6, 1588)
hl(640, 96.6, 2015)
vl(1588, 0, 640)
vl(2015, 60, 640)
for y in [60.7, 108.4, 156, 529, 597.6]:
    hl(y, 1588, 2015)
ov.plot([1778, 1778], [160, 526], color=BORDER, lw=1.2, ls=(0, (2, 3)))

# bottom window borders
hl(708, 6, 2010)
vl(96.6, 708, 1236.7)
vl(2010, 678, 1267)
hl(1116, 96.6, 2010)
hl(1236.7, 96.6, 2010)

# window headers
for y, period in [(22, "日线∨"), (693, "15分钟∨")]:
    txt(12, y, "⊂⊃", "#9a9a9a", 11, family="DejaVu Sans")
    txt(54, y + 1, "●", YEL, 7, family="DejaVu Sans")
    txt(73, y, "螺纹钢2410", WHITE, 14.5)
    txt(184, y - 9, "M", RED, 8)
    txt(198, y, "(SHFE rb2410)", WHITE, 14.5)
    txt(370, y, period, WHITE, 14.5)
txt(488, 693, "3563", "#00e600", 14.5)
txt(561, 693, "-43 / -1.19%", "#00e600", 14.5)

txt(102, 52, "期海长风趋势（电脑）∨", YEL)
txt(350, 52, "MA60 3644.78", WHITE)
txt(508, 52, "3644.78", RED)
txt(597, 52, "日线跟踪止损点 -3648.64", WHITE)
txt(103, 723, "期货短线趋势（电脑）∨", YEL)
txt(351, 723, "MA60 3605.57", WHITE)
txt(507, 723, "3605.57", LIME)
txt(596, 723, "日线跟踪止损点 -3597.36", WHITE)

txt(102, 488, "CCL∨", YEL)
txt(173, 488, "空头增仓", "#00d200")
txt(281, 488, "2130004.00", WHITE)
txt(102, 1133, "CCL∨", YEL)
txt(173, 1133, "多头减仓", "#00d200")
txt(281, 1133, "2130004.00", WHITE)

txt(97, 457, "165天", YEL)
txt(97, 1101, "15天", YEL)

# axis labels tied to chart scales
for ax, levels, fmt in [(dprice, [3800, 3600], "{}"), (dsub, [200, 100], "{}万"),
                        (mprice, [3700, 3600], "{}"), (msub, [210, 200, 190, 180], "{}万")]:
    tr = blended_transform_factory(ov.transData, ax.transData)
    for v in levels:
        ov.text(90, v, fmt.format(v), color=GRAY, fontsize=15, ha="right", va="center", transform=tr)
for ax, dates, y in [(dsub, daily_dates, 658), (msub, m15_dates, 1255)]:
    tr = blended_transform_factory(ax.transData, ov.transData)
    for x, s in dates:
        ov.text(x, y, s, color="#a0a0a0", fontsize=15, ha="center", va="center", transform=tr)

# quote panel
txt(1593, 19, "M", RED, 11, fontweight="bold")
txt(1614, 34, "螺纹钢2410  rb2410", YEL, 27)
txt(1593, 89, "卖出", WHITE, 17)
txt(1777, 85, "3565", "#00e600", 24, ha="right")
txt(1895, 85, "322", "#f0f000", 24, ha="right")
txt(1593, 139, "买入", WHITE, 17)
txt(1777, 134, "3563", "#00e600", 24, ha="right")
txt(1895, 134, "1016", "#f0f000", 24, ha="right")
for k in range(len(quote_left)):
    y = 175.6 + 36.87 * k
    txt(1592, y, quote_left[k][0], WHITE, 17)
    txt(1763, y, quote_left[k][1], QCOL[quote_left_col[k]], 16, ha="right", fontweight="bold")
    txt(1792, y, quote_right[k][0], WHITE, 17)
    txt(2002, y, quote_right[k][1], QCOL[quote_right_col[k]], 16, ha="right", fontweight="bold")
ov.add_patch(Polygon([(1866, 361), (1884, 361), (1875, 368)], closed=True, color="#a0a0a0"))
txt(1598, 554, tick_cols[0], "#8c8c8c", 17)
for name, x in zip(tick_cols[1:], [1773, 1845, 1907, 1972]):
    txt(x, 554, name, "#8c8c8c", 17, ha="center")
for k, name in enumerate(tabs):
    x0, x1 = [1603, 1690, 1765, 1845, 1930][k], [1603, 1690, 1765, 1845, 1930][k + 1]
    ov.plot([x0, x0 + 10, x1 - 10, x1], [640, 666, 666, 640], color=BORDER, lw=1.4)
    txt((x0 + x1) / 2, 653, name, "#b0b0b0", 15, ha="center")

fig.savefig("out.png", dpi=100, facecolor="black")
